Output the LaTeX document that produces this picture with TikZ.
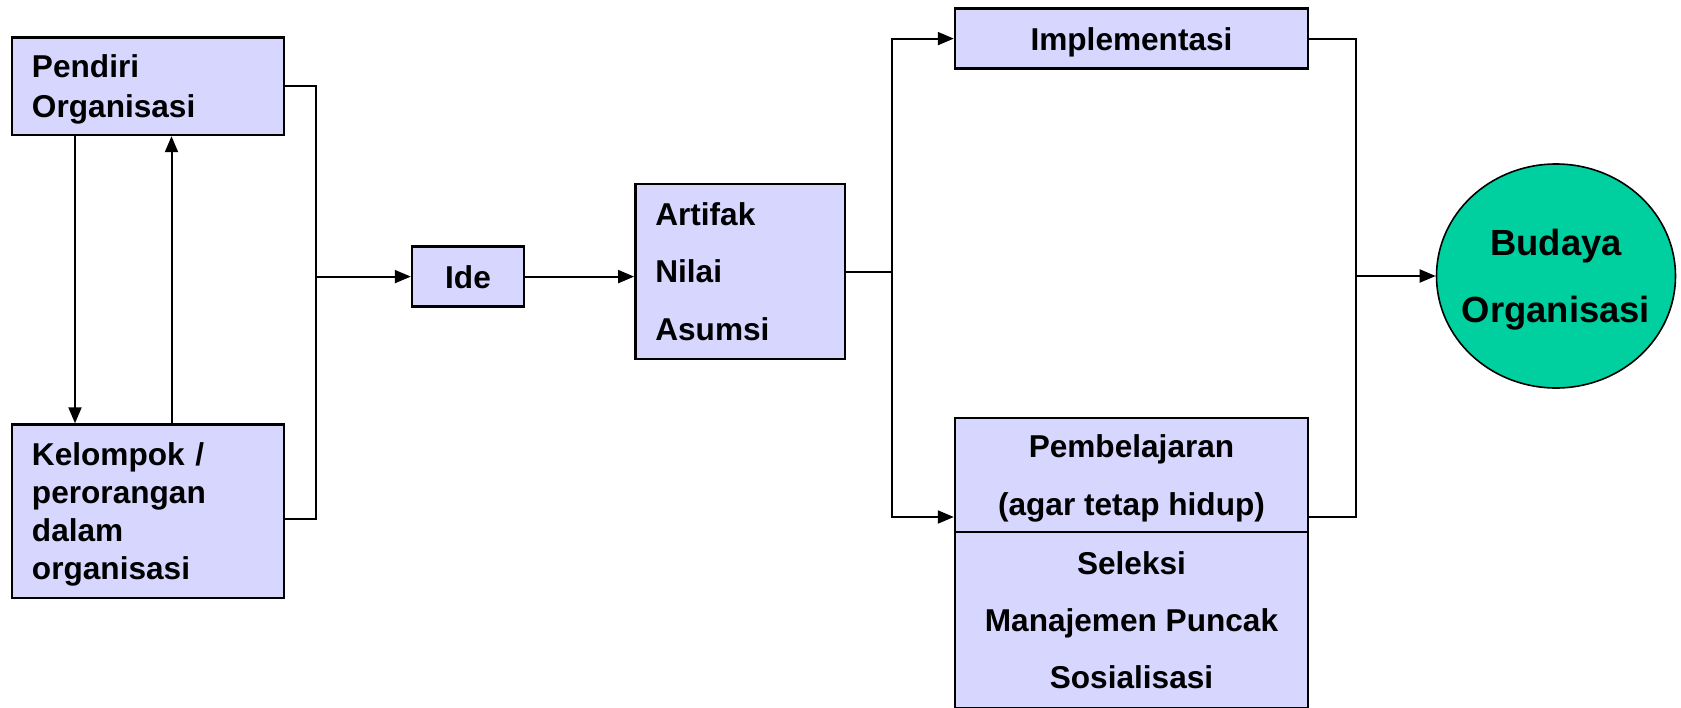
\documentclass[tikz,border=0pt]{standalone}
\usepackage{fontspec}
\setmainfont{Liberation Sans}
\usetikzlibrary{arrows.meta,shapes.geometric}

\begin{document}
\begin{tikzpicture}[x=0.5pt, y=-0.5pt, >={Triangle[length=8pt,width=6.5pt]}, line width=1pt,
    box/.style={draw, fill=boxfill, line width=1.2pt, inner ysep=0pt,
                font=\bfseries\fontsize{15.8}{19.8}\selectfont},
    leftbox/.style={box, align=left, inner xsep=10pt},
    midbox/.style={box, align=center, inner xsep=0pt, text depth=0pt}]
        % -------- 共用參數 --------
        \colorlet{boxfill}{blue!16}
        \definecolor{budayafill}{RGB}{0,208,160}
        \useasboundingbox (0,0) rectangle (1681,707);

        % ======== 左: 來源 ========
        \node[leftbox, text width=116pt, minimum height=48.75pt, text depth=19.8pt] (pendiri) at (148,86.25)
            {Pendiri\\Organisasi};
        \node[leftbox, text width=116pt, minimum height=86.75pt, text depth=57pt,
              font=\bfseries\fontsize{15.8}{19}\selectfont] (kelompok) at (148,511.25)
            {Kelompok /\\perorangan\\dalam\\organisasi};

        % pendiri <-> kelompok
        \draw[->] ([xshift=-36.5pt]pendiri.south) -- ([xshift=-36.5pt]kelompok.north);
        \draw[->] ([xshift=11.75pt]kelompok.north) -- ([xshift=11.75pt]pendiri.south);

        % ======== 中: Ide, nilai ========
        \node[midbox, minimum width=56pt, minimum height=30pt] (ide) at (468,276.6) {Ide};
        \node[leftbox, text width=84.7pt, minimum height=87.5pt, text depth=57.4pt,
              font=\bfseries\fontsize{15.8}{28.7}\selectfont] (nilai) at (740,271.5)
            {Artifak\\Nilai\\Asumsi};

        \coordinate (bus1) at (316,276.6);
        \draw (pendiri.east) -| (bus1) |- ([yshift=-4pt]kelompok.east);
        \draw[->] (bus1) -- (ide.west);
        \draw[->] (ide.east) -- (ide.east -| nilai.west);

        % ======== 右: 過程 ========
        \node[midbox, minimum width=176.5pt, minimum height=30pt] (impl) at (1131.5,38.6) {Implementasi};
        \node[midbox, minimum width=176.5pt, minimum height=57pt,
              font=\bfseries\fontsize{15.8}{28.7}\selectfont] (pemb) at (1131.5,475)
            {Pembelajaran\\(agar tetap hidup)};
        \node[midbox, minimum width=176.5pt, minimum height=88pt,
              font=\bfseries\fontsize{15.8}{28.7}\selectfont] (seleksi) at (1131.5,620)
            {Seleksi\\Manajemen Puncak\\Sosialisasi};

        \coordinate (bus2) at (892,271.5);
        \draw (nilai.east) -- (bus2);
        \draw[->] (bus2) |- (impl.west);
        \draw[->] (bus2) |- ([yshift=-21pt]pemb.west);

        % ======== 結果 ========
        \node[ellipse, draw, fill=budayafill, line width=0.8pt, minimum width=119.5pt, minimum height=112pt,
              inner xsep=-6pt, inner ysep=0pt, text depth=0pt, align=center,
              font=\bfseries\fontsize{18.2}{33.2}\selectfont] (budaya) at (1556,276)
            {Budaya\\Organisasi};

        \coordinate (bus3) at (1356,276);
        \draw (impl.east) -| (bus3) |- ([yshift=-21pt]pemb.east);
        \draw[->] (bus3) -- (budaya.west);

\end{tikzpicture}
\end{document}
